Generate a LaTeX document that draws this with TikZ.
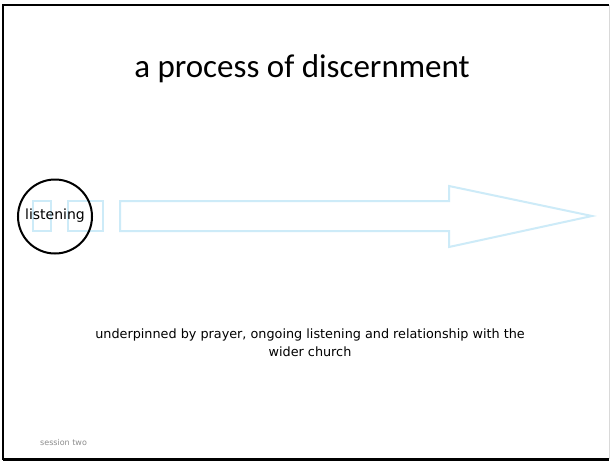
\documentclass[tikz,border=0pt]{standalone}
\usepackage{fontspec}
\setmainfont{DejaVu Sans}
\newfontfamily\titlefont{Carlito}
\definecolor{arrowblue}{HTML}{CDEBF8}
\definecolor{sessgrey}{HTML}{8C8C8C}
\begin{document}
\begin{tikzpicture}[x=1pt,y=-1pt,
  frameline/.style={line width=2.2pt,black},
  blueline/.style={line width=2pt,arrowblue,line join=miter},
  bodytext/.style={font=\fontsize{12.8}{18}\selectfont,align=center,inner sep=0pt}]
\useasboundingbox (0,0) rectangle (611,461);
\fill[white] (0,0) rectangle (611,461);
% frame
\draw[frameline] (3,459.5) -- (3,5) -- (609,5);
\draw[frameline] (3,459.5) -- (609,459.5);
\draw[line width=0.8pt,black!15] (609.5,5) -- (609.5,459);
% striped arrow
\draw[blueline] (33,201) rectangle (51,231);
\draw[blueline] (68,201) rectangle (103,231);
\draw[blueline] (120,201) -- (449,201) -- (449,186) -- (592,216) -- (449,247) -- (449,231) -- (120,231) -- cycle;
% circle
\node[draw,circle,line width=2pt,minimum size=74pt,inner sep=0pt] (listening) at (55,216.5) {};
\node[font=\fontsize{14}{16}\selectfont,inner sep=0pt] (listentext) at (55,216) {listening};
% title
\node[font=\titlefont\fontsize{33}{40}\selectfont,inner sep=0pt] (title) at (302,69) {a process of discernment};
% body
\node[bodytext] (body) at (310,343) {underpinned by prayer, ongoing listening and relationship with the\\wider church};
% footer
\node[font=\fontsize{8}{9}\selectfont,text=sessgrey,inner sep=0pt,anchor=west] (session) at (40,443) {session two};
\end{tikzpicture}
\end{document}
